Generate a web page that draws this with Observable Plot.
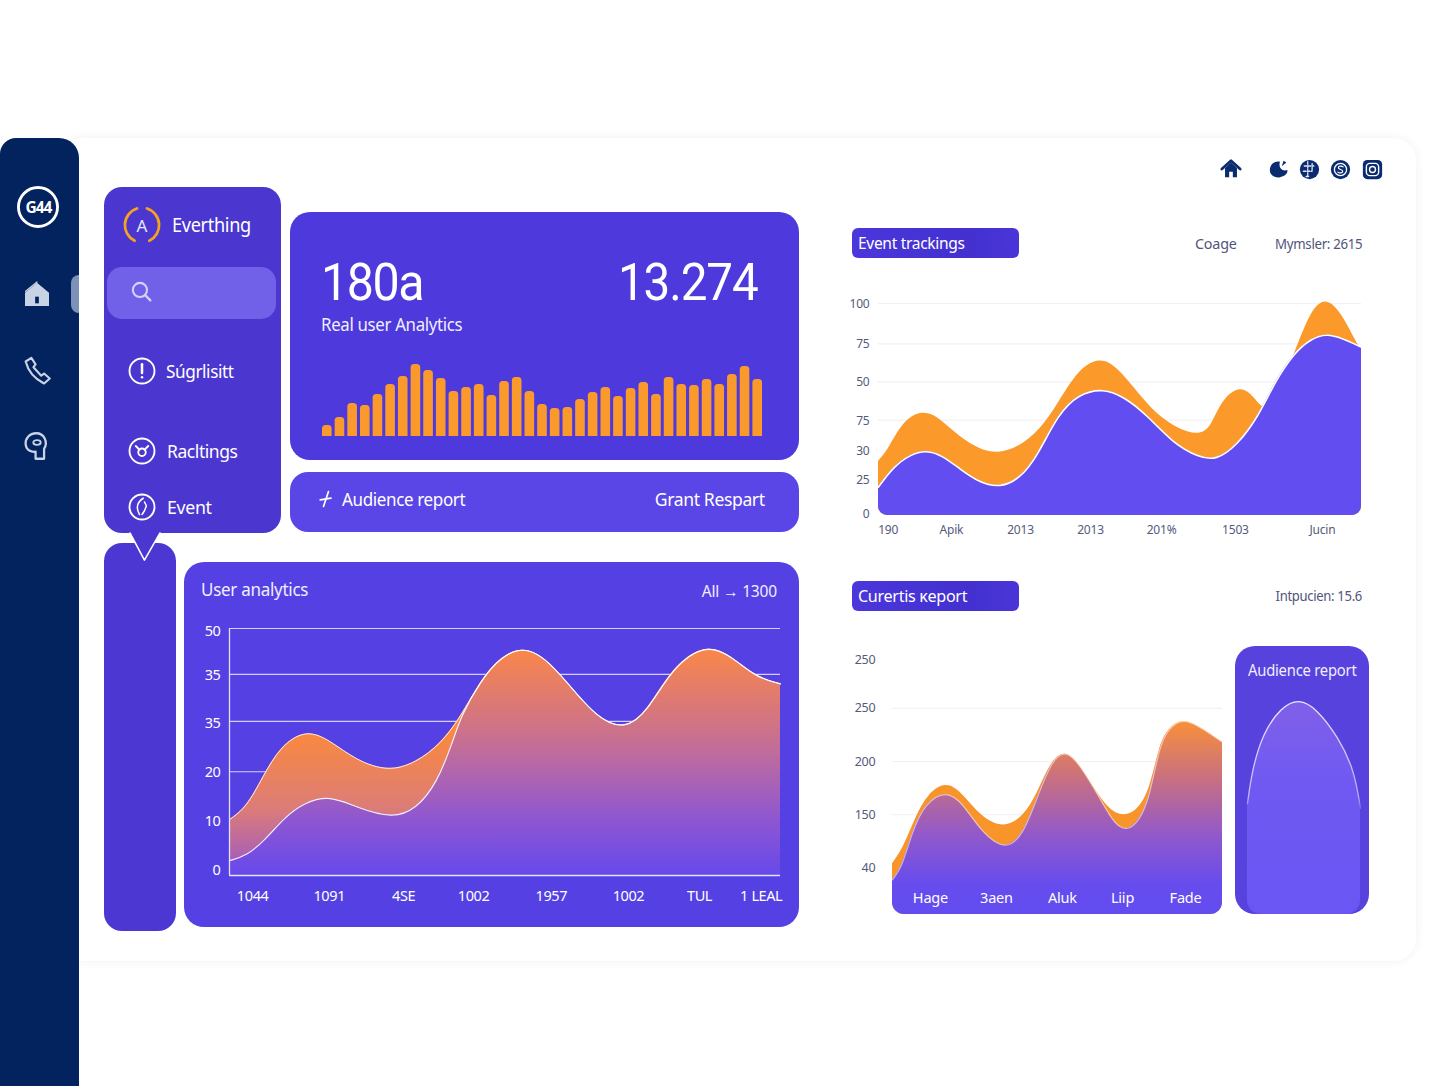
<!DOCTYPE html>
<html><head><meta charset="utf-8">
<script src="https://cdn.jsdelivr.net/npm/d3@7"></script>
<script src="https://cdn.jsdelivr.net/npm/@observablehq/plot@0.6"></script>
<style>
html,body{margin:0;padding:0;background:#fff}
#root{position:relative;width:1448px;height:1086px;overflow:hidden;font-family:"Noto Sans",sans-serif}
.box{position:absolute;box-sizing:border-box}
.t{position:absolute;white-space:nowrap;line-height:1;color:#fff}
svg{overflow:visible}
</style></head><body><div id="root"></div>
<script>
// ---------- data ----------
const barValues = [11,19,33,31,42,52,60,72,66,58,45,49,52,41,55,59,45,32,28,29,37,44,49,40,48,54,42,59,52,51,57,52,62,70,57];

const eventTopT = [0,2,5.2,9.2,12.5,16.8,21.1,24.8,29.2,33.5,37.2,41.5,45.9,49.5,53.9,57.5,61.9,66.2,68.8,71,75,77.9,80.1,83,86.2,89.5,92.8,96,98.9,100];
const eventTopV = [25.5,30.7,44.8,49.5,46.4,36.9,31,29,32.2,40.1,52.7,69,74.6,70,57.4,48,40.9,37.8,40.9,54.2,61.5,55.8,48,60,76.2,96.7,103,95.1,81.7,78];
const eventLowT = [0,3,6.6,9.9,13.2,16.8,21.1,25.2,29.2,32.8,37.2,41.5,46.6,50.9,55.3,61.1,66.3,69.9,74.2,78.6,82.2,86.2,89.5,92.8,96,100];
const eventLowV = [13.4,22.8,28.8,30.8,28.3,22,15.2,13.2,17.3,27.5,48,57.4,60,55.8,48,33.8,27.5,26,33,46.4,63.7,77,83.3,85.8,83.6,79.4];
const eventGrid = [100,81,63,45];
const eventYPos = [100,81.1,63.2,44.8,30.7,17,0.9];
const eventYLabels = ["100","75","50","75","30","25","0"];
const eventXPos = [2,15.1,29.4,43.9,58.6,73.9,91.9];
const eventXLabels = ["190","Apik","2013","2013","201%","1503","Jucin"];

const userTopT = [0,3.1,6,9.3,14,18.3,23,28.9,33.9,38.3,41.9,45.6,49.2,53.2,57.2,61.5,66.6,71.7,76,80.4,86.6,91.3,95.6,100];
const userTopV = [11.3,13.8,19.9,26.3,29.6,27.3,23.3,21,22.9,26.6,32,39.5,44.2,46.3,44.2,38.8,32,29.4,33.4,42.2,47,44.2,40.1,38.8];
const userLowT = [0,3.1,6.4,10,13.6,18.3,23,29.6,33.9,37.6,40.5,41.9,45.6,49.2,53.2,57.2,61.5,66.6,71.7,76,80.4,86.6,91.3,95.6,100];
const userLowV = [3,4,7.1,11.8,14.8,16.2,13.8,11.5,13.5,18.6,27,32,39.5,44.2,46.3,44.2,38.8,32,29.4,33.4,42.2,47,44.2,40.1,38.8];
const userGrid = [50,40.7,31.2,21,11];
const userYPos = [49.4,40.5,30.8,20.9,11,1];
const userYLabels = ["50","35","35","20","10","0"];
const userXPos = [4.2,18.1,31.6,44.3,58.4,72.4,85.3,96.5];
const userXLabels = ["1044","1091","4SE","1002","1957","1002","TUL","1 LEAL"];

const repTopT = [0,3.5,7.2,10.9,16.2,21,26.9,33.8,39.7,43.9,48.2,52.4,56.7,61,65.3,70.2,74.9,78.2,80.8,83.5,88.2,94.1,100];
const repTopV = [49.7,66,97,118.3,130,119.9,95.4,84,95.4,118.3,151,161,147.7,124.8,103.6,95,103.6,124.8,164,182,193,182,168.9];
const repLowT = [0,2.9,6.1,9.8,16.2,21.5,26.9,34.4,39.7,43.5,48.2,52.4,56.7,63.2,67.5,71.2,74.9,77.9,80.8,83.5,88.2,94.1,100];
const repLowV = [34,46.4,82.4,108.5,122,108.5,80.7,62,79.1,111.8,151,161,147.7,111.8,87.3,82,92.2,115,164,182,193,182,168.9];
const repGrid = [202,150,98];
const repYPos = [250,202,150,98,46];
const repYLabels = ["250","250","200","150","40"];
const repXPos = [11.5,31.5,51.5,69.7,88.8];
const repXLabels = ["Hage","3aen","Aluk","Liip","Fade"];
const repXLabelV = 16;

const arcT = [0,4,13.5,29.5,45.5,61,80.6,94.6,100];
const arcV = [111,144,181,207,216,206,177,144,106];

// ---------- helpers ----------
const root = document.getElementById("root");
const rows = (t, v) => t.map((x, i) => ({x, v: v[i]}));
const font = `"Noto Sans",sans-serif`;
const fmt = (pos, labels) => { const m = new Map(pos.map((p, i) => [p, labels[i]])); return d => m.get(d); };
function box(l, t, w, h, bg, r, extra = "") {
  const d = document.createElement("div"); d.className = "box";
  d.style.cssText = `left:${l}px;top:${t}px;width:${w}px;height:${h}px;background:${bg};border-radius:${r};${extra}`;
  root.append(d); return d;
}
function text(s, x, y, size, opt = {}) {
  const d = document.createElement("div"); d.className = "t"; d.textContent = s;
  d.style.cssText = `top:${y}px;font-size:${size}px;` + (opt.right != null ? `right:${1448 - opt.right}px;` : `left:${x}px;`) +
    `color:${opt.color || "#fff"};font-family:${opt.font || font};letter-spacing:${opt.ls || 0}px;font-weight:${opt.w || 400};` +
    `transform:translateY(-50%) scaleX(${opt.sx || 1});transform-origin:${opt.right != null ? "right" : "left"} center;`;
  root.append(d); return d;
}
function icon(x, y, s, inner) {
  const d = document.createElement("div");
  d.style.cssText = `position:absolute;left:${x - s / 2}px;top:${y - s / 2}px;width:${s}px;height:${s}px`;
  d.innerHTML = `<svg width="${s}" height="${s}" viewBox="0 0 24 24" fill="none" stroke-linecap="round" stroke-linejoin="round">${inner}</svg>`;
  root.append(d);
}
function place(p, l, t) { p.style.position = "absolute"; p.style.left = l + "px"; p.style.top = t + "px"; p.style.maxWidth = "none"; root.append(p); return p; }
const gradient = (id, stops, vTop, vBot) => (i, s) => {
  const g = d3.create("svg:linearGradient").attr("id", id).attr("gradientUnits", "userSpaceOnUse")
    .attr("x1", 0).attr("x2", 0).attr("y1", s.y(vTop)).attr("y2", s.y(vBot));
  stops.forEach(([o, c, a]) => g.append("stop").attr("offset", o).attr("stop-color", c).attr("stop-opacity", a ?? 1));
  return g.node();
};
const clip = (id, r) => (i, s) => {
  const c = d3.create("svg:clipPath").attr("id", id);
  c.append("rect").attr("x", s.x(0)).attr("y", -40).attr("width", s.x(100) - s.x(0)).attr("height", s.y(0) + 40).attr("rx", r);
  return c.node();
};
const applyClip = (p, id) => p.querySelectorAll('g[aria-label="area"]').forEach(g => g.setAttribute("clip-path", `url(#${id})`));
const curve = "basis";

// ---------- frame ----------
box(60, 138, 1356, 823, "#fff", "22px", "box-shadow:0 0 10px rgba(60,60,110,.07)");
box(0, 138, 79, 948, "#03235f", "16px 20px 0 0");
box(71, 275, 8, 38, "#7d92b8", "8px 0 0 8px");

// sidebar icons
icon(38, 207, 46, `<circle cx="12" cy="12" r="10.2" stroke="#fff" stroke-width="1.5"/>`);
text("G44", 25.5, 207.5, 15.5, {w: 700, ls: -1});
icon(37, 294, 32, `<path d="M12 3.5 L21 11 L21 21 L3 21 L3 11 Z" fill="#c9d3e6"/><path d="M12 3 L3.5 10" stroke="#c9d3e6"/><rect x="10.6" y="14" width="2.8" height="5" fill="#03235f"/>`);
icon(37, 370, 34, `<path d="M4 6 L8 3.5 L11 8 L9.5 10 L15 16 L17 14.5 L21 18 L17 21.5 C10 18 5.5 12 4 6 Z M13 19 L16 21" stroke="#c9d3e6" stroke-width="1.5"/>`);
icon(37, 446, 34, `<path d="M17 21 L17 14 C20 9 17 3 11.5 3 C6.5 3 3.5 7 4 11 C4.5 15 8 16.5 11 16 L11 21 Z" stroke="#c9d3e6" stroke-width="1.6"/><ellipse cx="12" cy="9.5" rx="2.6" ry="1.7" stroke="#c9d3e6" stroke-width="1.3"/>`);

// ---------- left menu ----------
box(104, 187, 177, 346, "#4b36d0", "18px");
box(104, 543, 72, 388, "#4c37d2", "18px");
icon(145, 546, 34, `<path d="M1.4 2.8 L11.6 22 L22.6 2.8 Z" fill="#4b36d0"/><path d="M1.4 2.8 L11.6 22 L22.6 2.8" stroke="#fff" stroke-width="1.1" fill="none"/>`);
box(107, 267, 169, 52, "#7161e8", "15px");
icon(142, 225, 44, `<path d="M9.3 3 A9.5 9.5 0 0 0 8 20.6" stroke="#f6a21e" stroke-width="1.5"/><path d="M14.7 3 A9.5 9.5 0 0 1 16 20.6" stroke="#f6a21e" stroke-width="1.5"/>`);
text("A", 136.5, 225, 17, {color: "#e9e6ff"});
text("Everthing", 172, 225, 19.5, {ls: -0.35, sx: .93});
icon(141, 291, 25, `<circle cx="10.5" cy="10.5" r="6.8" stroke="#d6d0fa" stroke-width="2"/><path d="M15.5 15.5 L20.5 20.5" stroke="#d6d0fa" stroke-width="2.2"/>`);
icon(142, 371, 30, `<circle cx="12" cy="12" r="10" stroke="#fff" stroke-width="1.5"/><path d="M12 6.5 V13.5" stroke="#fff" stroke-width="2"/><circle cx="12" cy="17" r="1" fill="#fff"/>`);
text("Súgrlisitt", 166, 371, 18.5, {ls: -0.45, sx: .93});
icon(142, 451, 30, `<circle cx="12" cy="12" r="10" stroke="#fff" stroke-width="1.5"/><circle cx="12" cy="13" r="3" stroke="#fff" stroke-width="1.5"/><path d="M7 8 Q9 10 10 11 M17 8 Q15 10 14 11" stroke="#fff" stroke-width="1.5"/>`);
text("Racltings", 167, 450.5, 18.5, {ls: -0.45, sx: .945});
icon(142, 507, 30, `<circle cx="12" cy="12" r="10" stroke="#fff" stroke-width="1.5"/><path d="M13 5 C8 8 7 13 10 18 M14 8 L15.5 11 L14 15 L12 18" stroke="#fff" stroke-width="1.2"/>`);
text("Event", 167, 506.5, 18.5, {ls: -0.35, sx: .96});

// ---------- top card ----------
box(290, 212, 509, 248, "#4d39dc", "20px");
text("180a", 321, 283, 52, {font: "Roboto,sans-serif", ls: -1.5, sx: .93});
text("13.274", 0, 283, 52, {font: "Roboto,sans-serif", ls: -1.2, right: 758, sx: .915});
text("Real user Analytics", 321, 324, 18, {ls: -0.35, color: "#f0eeff", sx: .935});
place(Plot.plot({
  width: 448, height: 78, marginLeft: 4, marginRight: 4, marginTop: 4, marginBottom: 2,
  x: {type: "band", domain: d3.range(barValues.length), paddingInner: 0.24, paddingOuter: 0, round: false, axis: null},
  y: {domain: [0, 72], axis: null},
  style: {background: "transparent"},
  marks: [Plot.rectY(barValues, {x: (d, i) => i, y1: -5, y2: d => d, fill: "#fb9a2c", rx: 3.5, clip: true})]
}), 318, 360);

box(290, 472, 509, 60, "#5a46e6", "18px");
icon(326, 499, 20, `<path d="M15 3 L9 21 M5 13 L18 11" stroke="#fff" stroke-width="2"/>`);
text("Audience report", 342, 499, 18.5, {ls: -0.4, sx: .92});
text("Grant Respart", 0, 499, 18.5, {ls: -0.4, right: 765, sx: .95});

// ---------- user analytics ----------
box(184, 562, 615, 365, "#5541e3", "20px");
text("User analytics", 201, 588.5, 18, {ls: -0.3, color: "#f0eeff", sx: .945});
text("All → 1300", 0, 590.5, 16.5, {ls: -0.2, right: 777, color: "#f0eeff", sx: .94});
const userPlot = Plot.plot({
  width: 615, height: 310, marginLeft: 45, marginRight: 19, marginTop: 18, marginBottom: 45,
  x: {domain: [0, 100]}, y: {domain: [0, 50]},
  style: {background: "transparent", fontFamily: font, fontSize: "14.5px", color: "#fff", letterSpacing: "-0.4px"},
  marks: [
    gradient("userBand", [[0, "#fc8a3a"], [.55, "#dc7c78"], [1, "#9a55c8"]], 30, 0),
    gradient("userFill", [[0, "#fb8748"], [.45, "#c06c9c", .97], [.75, "#8a54d6", .93], [1, "#6248ee", .93]], 46, 0),
    Plot.ruleY(userGrid, {stroke: "#d4cffa", strokeWidth: 1.2}),
    Plot.areaY(rows(userTopT, userTopV), {x: "x", y: "v", curve, fill: "url(#userBand)"}),
    Plot.areaY(rows(userLowT, userLowV), {x: "x", y: "v", curve, fill: "url(#userFill)"}),
    Plot.lineY(rows(userTopT, userTopV), {x: "x", y: "v", curve, stroke: "#fff", strokeWidth: 1, strokeOpacity: .85}),
    Plot.lineY(rows(userLowT, userLowV), {x: "x", y: "v", curve, stroke: "#fff", strokeWidth: 1.2, strokeOpacity: .9}),
    Plot.ruleY([0], {stroke: "#e4e1fd", strokeWidth: 1.5}),
    Plot.ruleX([0], {stroke: "#e4e1fd", strokeWidth: 1.3}),
    Plot.axisY(userYPos, {anchor: "left", tickSize: 0, tickPadding: 9, label: null, tickFormat: fmt(userYPos, userYLabels)}),
    Plot.axisX(userXPos, {anchor: "bottom", tickSize: 0, tickPadding: 15, label: null, tickFormat: fmt(userXPos, userXLabels)})
  ]
});
place(userPlot, 184, 610);

// ---------- event trackings ----------
const pill = "linear-gradient(90deg,#4b37da,#4330cf 70%,#4a36d8)";
box(852, 228, 167, 30, pill, "6px");
text("Event trackings", 858, 242, 17, {ls: -0.35, sx: .915});
text("Coage", 1195, 243, 15, {color: "#50557a", ls: -0.2, sx: .955});
text("Mymsler: 2615", 0, 243, 14.5, {color: "#50557a", ls: -0.35, right: 1362, sx: .915});
const eventPlot = Plot.plot({
  width: 530, height: 270, marginLeft: 38, marginRight: 9, marginTop: 23, marginBottom: 35,
  x: {domain: [0, 100]}, y: {domain: [0, 100]},
  style: {background: "transparent", fontFamily: font, fontSize: "12px", color: "#555a7c", letterSpacing: "-0.2px"},
  marks: [
    clip("eventClip", 9),
    Plot.ruleY(eventGrid, {stroke: "#f1f1f6", strokeWidth: 1.2}),
    Plot.areaY(rows(eventTopT, eventTopV), {x: "x", y: "v", curve, fill: "#fb9a2a"}),
    Plot.areaY(rows(eventLowT, eventLowV), {x: "x", y: "v", curve, fill: "#624df0"}),
    Plot.lineY(rows(eventLowT, eventLowV), {x: "x", y: "v", curve, stroke: "#fff", strokeWidth: 1.6}),
    Plot.axisY(eventYPos, {anchor: "left", tickSize: 0, tickPadding: 9, label: null, dy: 1, tickFormat: fmt(eventYPos, eventYLabels)}),
    Plot.axisX(eventXPos, {anchor: "bottom", tickSize: 0, tickPadding: 10, label: null, tickFormat: fmt(eventXPos, eventXLabels)})
  ]
});
applyClip(eventPlot, "eventClip");
place(eventPlot, 840, 280);

// top-right icons
const navy = "#0b2b70";
icon(1231, 169, 22, `<path d="M2 12 L12 3 L22 12" stroke="${navy}" stroke-width="3"/><path d="M5.5 11 V21 H10 V15 H14 V21 H18.5 V11 L12 5 Z" fill="${navy}"/>`);
icon(1279, 169, 22, `<path d="M13 4 C6 3 2 8 2 13 C2 19 8 22 13 21 C18 20 22 17 21 13 C16 15 11 11 13 4 Z M17 3 L15 9 L20 5 Z" fill="${navy}"/>`);
icon(1309.5, 169, 21, `<circle cx="12" cy="12" r="11" fill="${navy}"/><path d="M6 8 H17 M5 14 H15 M10 3 V20 M15 5 V13 M8 20 H12" stroke="#dfe5f5" stroke-width="1.5" stroke-dasharray="3 1.5"/>`);
icon(1340, 169, 21, `<circle cx="12" cy="12" r="11" fill="${navy}"/><circle cx="12" cy="12" r="7" stroke="#fff" stroke-width="1.5"/><path d="M15 9 C13 7.5 9.5 8 9.5 10 C9.5 12.5 14.5 11.5 14.5 14 C14.5 16 11 16.5 9 15" stroke="#fff" stroke-width="1.4"/>`);
icon(1372, 169, 21, `<rect x="1" y="1" width="22" height="22" rx="5" fill="${navy}"/><rect x="5" y="5" width="14" height="14" rx="4" stroke="#fff" stroke-width="1.6"/><circle cx="12" cy="12" r="3.4" stroke="#fff" stroke-width="1.6"/>`);

// ---------- current report ----------
box(852, 581, 167, 30, pill, "6px");
text("Curertis κeport", 858, 595, 17, {ls: -0.35, sx: .95});
text("Intpucien: 15.6", 0, 595, 14.5, {color: "#50557a", ls: -0.35, right: 1362, sx: .9});
const repPlot = Plot.plot({
  width: 395, height: 290, marginLeft: 52, marginRight: 13, marginTop: 19, marginBottom: 16,
  x: {domain: [0, 100], axis: null}, y: {domain: [0, 250]},
  style: {background: "transparent", fontFamily: font, fontSize: "12.5px", color: "#555a7c", letterSpacing: "-0.2px"},
  marks: [
    clip("repClip", 12),
    gradient("repFill", [[0, "#fa9038"], [.3, "#c97080"], [.6, "#9058cc"], [.85, "#664ced"], [1, "#624cf0"]], 190, 0),
    Plot.ruleY(repGrid, {stroke: "#f1f1f6", strokeWidth: 1.2}),
    Plot.areaY(rows(repTopT, repTopV), {x: "x", y: "v", curve, fill: "#f8952a"}),
    Plot.areaY(rows(repLowT, repLowV), {x: "x", y: "v", curve, fill: "url(#repFill)"}),
    Plot.lineY(rows(repLowT, repLowV), {x: "x", y: "v", curve, stroke: "#fff", strokeWidth: 1.2, strokeOpacity: .55}),
    Plot.text(repXLabels, {x: repXPos, y: repXLabelV, text: d => d, fill: "#fff", fontSize: 14.5}),
    Plot.axisY(repYPos, {anchor: "left", tickSize: 0, tickPadding: 17, label: null, tickFormat: fmt(repYPos, repYLabels)})
  ]
});
applyClip(repPlot, "repClip");
place(repPlot, 840, 640);

// ---------- audience tile ----------
box(1235, 646, 134, 268, "#5742de", "20px");
text("Audience report", 1247.5, 670, 16, {ls: -0.25, color: "#f0eeff", sx: .925});
const arcPlot = Plot.plot({
  width: 134, height: 224, marginLeft: 12, marginRight: 9, marginTop: 0, marginBottom: 0,
  x: {domain: [0, 100], axis: null}, y: {domain: [0, 224], axis: null},
  style: {background: "transparent"},
  marks: [
    clip("arcClip", 14),
    gradient("arcFill", [[0, "#8060e8"], [.4, "#6f59f2"], [1, "#6a56f4"]], 213, 0),
    gradient("arcLine", [[0, "#fff", .85], [.85, "#fff", .55], [1, "#fff", 0]], 213, 100),
    Plot.areaY(rows(arcT, arcV), {x: "x", y: "v", curve, fill: "url(#arcFill)"}),
    Plot.lineY(rows(arcT, arcV), {x: "x", y: "v", curve, stroke: "url(#arcLine)", strokeWidth: 1.3})
  ]
});
applyClip(arcPlot, "arcClip");
place(arcPlot, 1235, 690);
</script></body></html>
